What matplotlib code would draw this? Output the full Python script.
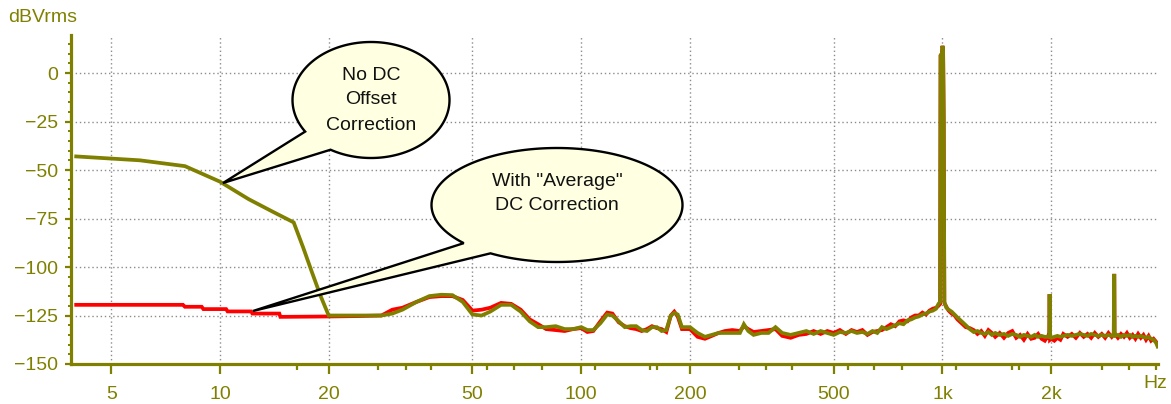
import numpy as np
import matplotlib
matplotlib.use('Agg')
import matplotlib.pyplot as plt
from matplotlib.patches import Polygon

plt.rcParams['font.family'] = ['Liberation Sans', 'DejaVu Sans']

OLIVE = '#808000'
RED = '#ff0000'
BUBBLE = '#ffffe1'

# ---- data ----
# low end, no DC offset correction (olive)
f_nodc_low = [4, 6, 8, 10, 12, 14, 16, 17, 18, 19, 20, 24]
db_nodc_low = [-43, -45, -48, -56, -65, -71.5, -77, -90, -103, -115, -125, -125]

# low end, with "average" DC correction (red, stepped)
f_avg_low = [4, 7.9, 8, 8.9, 9, 10.4, 10.5, 12.2, 12.3, 14.6, 14.7, 20, 24]
db_avg_low = [-119.5, -119.5, -120.5, -120.5, -121.7, -121.7, -122.9, -122.9,
              -124, -124, -125.7, -125.5, -125.3]

# common part of the spectrum
f_mid = [28, 30, 32, 35, 38, 41, 44, 47, 50, 53, 56, 60, 64, 68, 72, 76, 80, 85,
         90, 95, 100, 104, 108, 113, 118, 122, 127, 132, 137, 142, 147, 152, 157,
         162, 167, 172, 177, 181, 185, 190, 195, 200, 210, 220, 230, 240, 250, 262,
         275, 282, 290, 300, 315, 330, 345, 360, 380, 400]
db_nodc_mid = [-125, -124, -122, -118, -115, -114.3, -114.5, -118, -124.5, -125,
               -123, -119.5, -119.5, -123, -128, -131, -131, -130.5, -132, -132,
               -131, -132.5, -132.5, -129, -124.5, -125, -128, -131, -130.5, -130.5,
               -132.5, -133, -131, -131, -133, -132.5, -125, -123.7, -124.5, -131,
               -131, -131, -134, -136, -135, -134, -134, -134, -134, -129.5, -133,
               -135, -134, -134, -131, -134, -135, -134]
db_avg_mid = [-125, -122, -121, -118, -115.5, -115, -115, -117, -122.5, -122,
              -121, -118.5, -119, -122, -127, -129.5, -132, -132.5, -133, -132,
              -131.5, -133.5, -133, -128, -123.5, -124, -128.5, -130.5, -131.5, -132,
              -133, -132, -130.5, -131.5, -132, -133.5, -125, -123, -125.5, -132,
              -132, -132, -136, -137, -135.5, -134, -133, -132.5, -133, -130.5, -132,
              -133.5, -133, -132.5, -132, -135.5, -136.5, -135]

f_high = [420, 440, 460, 480, 500, 520, 540, 560, 580, 600, 620, 640, 660, 680, 700,
          720, 740, 760, 780, 800, 820, 840, 860, 880, 900, 920, 940, 960, 975, 985,
          988, 996, 1000, 1004, 1008, 1012, 1025, 1040, 1060, 1080, 1100, 1130, 1160,
          1190, 1220, 1250, 1280, 1310, 1340, 1370, 1400, 1440, 1480, 1520, 1560, 1600,
          1640, 1680, 1720, 1760, 1800, 1840, 1880, 1920, 1960, 1975, 1980, 1985, 2000,
          2040, 2080, 2120, 2160, 2220, 2280, 2340, 2400, 2460, 2520, 2580, 2640, 2700,
          2760, 2820, 2880, 2940, 2980, 2985, 2990, 2995, 3000, 3060, 3120, 3180, 3240,
          3300, 3360, 3420, 3480, 3540, 3600, 3660, 3720, 3780, 3840, 3900, 3940]
db_nodc_high = [-133, -134.5, -133, -134, -135, -133.5, -134, -133, -134, -133.5,
                -134.5, -133, -134, -131, -132, -131, -130, -129, -129.5, -127.5,
                -127, -126, -125.5, -124.5, -124, -123, -122.5, -121.5, -119, -118,
                9, 10, 14, 12, -25, -118, -121, -122, -123, -124.5,
                -126, -128, -130, -132, -133.5, -133, -134, -134.5, -133.5, -135,
                -134, -135, -134.5, -135.5, -134.5, -135, -136, -135, -135.5, -136,
                -135, -136, -135.5, -136, -136, -136, -114, -136, -136.5,
                -136, -135.5, -136, -135.5, -135, -135.5, -135, -134.5, -135, -135.5,
                -134.5, -135, -135.5, -135, -135.5, -135, -135.5, -135, -104.5, -104.5,
                -135, -135.5, -135, -136, -135, -135.5, -135, -136, -135.5, -136,
                -135.5, -136, -136.5, -136, -137, -137.5, -139, -141]
db_avg_high = [-134.5, -133, -134.5, -133, -134, -132.5, -134.5, -132.5, -133.5, -132.5,
               -135, -133.5, -133, -132.5, -131, -129.5, -130.5, -128, -127.5, -128,
               -126, -125, -125, -123.5, -124.5, -122.5, -121.5, -121, -120, -119,
               9, 10, 14, 12, -25, -118.5, -120.5, -122.5, -124, -125,
               -127, -129, -131, -131.5, -132.5, -134.5, -133, -135.5, -132.5, -134,
               -136, -134, -136.5, -134, -133, -136.5, -135, -137.5, -134.5, -137,
               -136.5, -134.5, -137, -138, -135.5, -137, -114, -137.5, -137,
               -138, -136.5, -137.5, -134.5, -136, -134.5, -136.5, -134, -136, -134.5,
               -136.5, -134, -136, -134.5, -136.5, -134, -136, -134.5, -104.5, -104.5,
               -136, -134.5, -136.5, -134.5, -136, -134, -136.5, -135, -137, -134.5,
               -136.5, -135, -137.5, -135.5, -138, -137, -138.5, -140]

f_nodc = f_nodc_low + f_mid + f_high
db_nodc = db_nodc_low + db_nodc_mid + db_nodc_high
f_avg = f_avg_low + f_mid + f_high
db_avg = db_avg_low + db_avg_mid + db_avg_high

x_major = [5, 10, 20, 50, 100, 200, 500, 1000, 2000]
x_labels = ['5', '10', '20', '50', '100', '200', '500', '1k', '2k']
x_minor = [16.3, 27.3, 32.7, 38.5, 55, 65, 78, 109, 155, 162, 274, 325, 383,
           549, 648, 775, 1093, 1553, 1633, 2771, 3290, 3907]
y_major = [-150, -125, -100, -75, -50, -25, 0]

W, H = 1171, 404
fig = plt.figure(figsize=(W / 100, H / 100), dpi=100)
fig.patch.set_facecolor('white')


def fx(x):
    return x / W


def fy(y):
    return 1 - y / H


ax = fig.add_axes([fx(71), fy(364), fx(1158) - fx(71), fy(35) - fy(364)])
ax.set_xscale('log')
ax.set_xlim(3.87, 3950)
ax.set_ylim(-150, 19.6)

ax.plot(f_avg, db_avg, color=RED, lw=2.7, solid_joinstyle='miter', zorder=3)
ax.plot(f_nodc, db_nodc, color=OLIVE, lw=2.7, solid_joinstyle='miter', zorder=4)

ax.xaxis.set_major_locator(matplotlib.ticker.FixedLocator(x_major))
ax.xaxis.set_major_formatter(matplotlib.ticker.FixedFormatter(x_labels))
ax.xaxis.set_minor_locator(matplotlib.ticker.FixedLocator(x_minor))
ax.xaxis.set_minor_formatter(matplotlib.ticker.NullFormatter())
ax.set_yticks(y_major)
ax.yaxis.set_minor_locator(matplotlib.ticker.MultipleLocator(5))

ax.grid(which='major', color='#8c8c8c', linestyle=(0, (1, 2)), linewidth=1)
ax.set_axisbelow(True)

for side in ['top', 'right']:
    ax.spines[side].set_visible(False)
for side in ['left', 'bottom']:
    ax.spines[side].set_color(OLIVE)
    ax.spines[side].set_linewidth(2.3)

ax.tick_params(axis='x', which='major', length=7, width=1.6, color=OLIVE,
               labelcolor=OLIVE, labelsize=14, pad=9)
ax.tick_params(axis='x', which='minor', length=4, width=1.6, color=OLIVE)
ax.tick_params(axis='y', which='major', length=4.5, width=1.6, color=OLIVE,
               labelcolor=OLIVE, labelsize=14, pad=5)
ax.tick_params(axis='y', which='minor', length=2.5, width=1.4, color=OLIVE)

fig.text(fx(8), fy(18), 'dBVrms', color=OLIVE, fontsize=14, ha='left', va='center')
fig.text(fx(1167), fy(383), 'Hz', color=OLIVE, fontsize=14, ha='right', va='center')


def bubble(cx, cy, a, b, th_lo, th_hi, tip, lines, ys):
    t = np.radians(np.linspace(th_hi, th_lo + 360, 200))
    px = cx + a * np.cos(t)
    py = cy + b * np.sin(t)
    pts = [(fx(x), fy(y)) for x, y in zip(px, py)]
    pts.append((fx(tip[0]), fy(tip[1])))
    poly = Polygon(pts, closed=True, transform=fig.transFigure, facecolor=BUBBLE,
                   edgecolor='black', lw=1.7, zorder=10)
    fig.add_artist(poly)
    for txt, y in zip(lines, ys):
        fig.text(fx(cx), fy(y), txt, ha='center', va='center', fontsize=14,
                 color='#111111', zorder=11)


bubble(371, 100, 78.5, 58, 121, 147, (223, 183),
       ['No DC', 'Offset', 'Correction'], [75, 100, 125])
bubble(557, 205, 125.5, 57, 122, 138, (253, 311),
       ['With "Average"', 'DC Correction'], [182, 206])

fig.savefig('out.png', dpi=100)
